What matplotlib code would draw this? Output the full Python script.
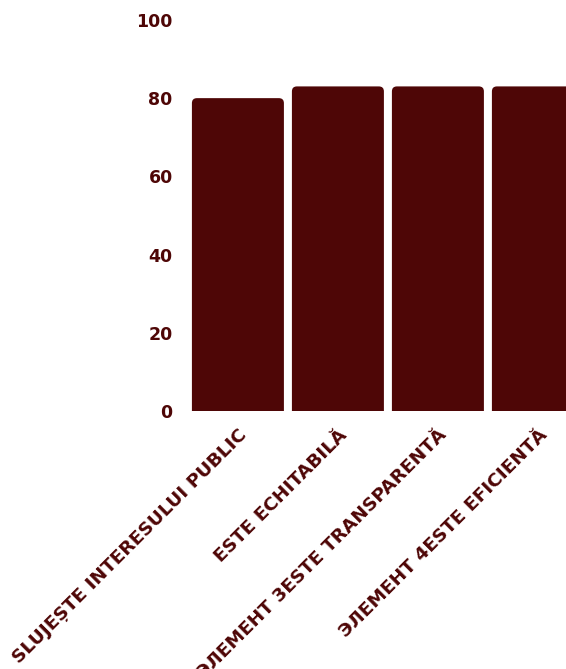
import matplotlib
matplotlib.use('Agg')
import matplotlib.pyplot as plt
from matplotlib.patches import FancyBboxPatch

categories = ['SLUJEȘTE INTERESULUI PUBLIC', 'ESTE ECHITABILĂ',
              'ЭЛЕМЕНТ 3ESTE TRANSPARENTĂ', 'ЭЛЕМЕНТ 4ESTE EFICIENTĂ']
values = [80, 83, 83, 83]
y_ticks = [0, 20, 40, 60, 80, 100]

color = '#4e0606'

fig = plt.figure(figsize=(5.66, 6.69), dpi=100)
ax = fig.add_axes([0.332, 0.3857, 0.7067, 0.5845])
ax.set_xlim(-0.5, 3.5)
ax.set_ylim(0, 100)

# plain bars first, then swap them for rounded ones
bars = ax.bar(range(len(values)), values, width=0.92, color=color)
for rect in bars:
    x, w, h = rect.get_x(), rect.get_width(), rect.get_height()
    rect.remove()
    p = FancyBboxPatch((x, -10), w, h + 10,
                       boxstyle='round,pad=0,rounding_size=0.05',
                       mutation_aspect=25.6, facecolor=color, edgecolor='none')
    ax.add_patch(p)

ax.set_yticks(y_ticks)
ax.set_yticklabels([str(t) for t in y_ticks], fontsize=12.5, fontweight='heavy', color=color)
ax.set_xticks(range(len(categories)))
ax.set_xticklabels(categories, rotation=45, ha='right', va='top',
                   rotation_mode='anchor', fontsize=13.3, fontweight='heavy', color=color)
ax.tick_params(axis='both', length=0)
ax.tick_params(axis='y', pad=11)
ax.tick_params(axis='x', pad=11)
for s in ax.spines.values():
    s.set_visible(False)

fig.savefig('out.png', dpi=100)
